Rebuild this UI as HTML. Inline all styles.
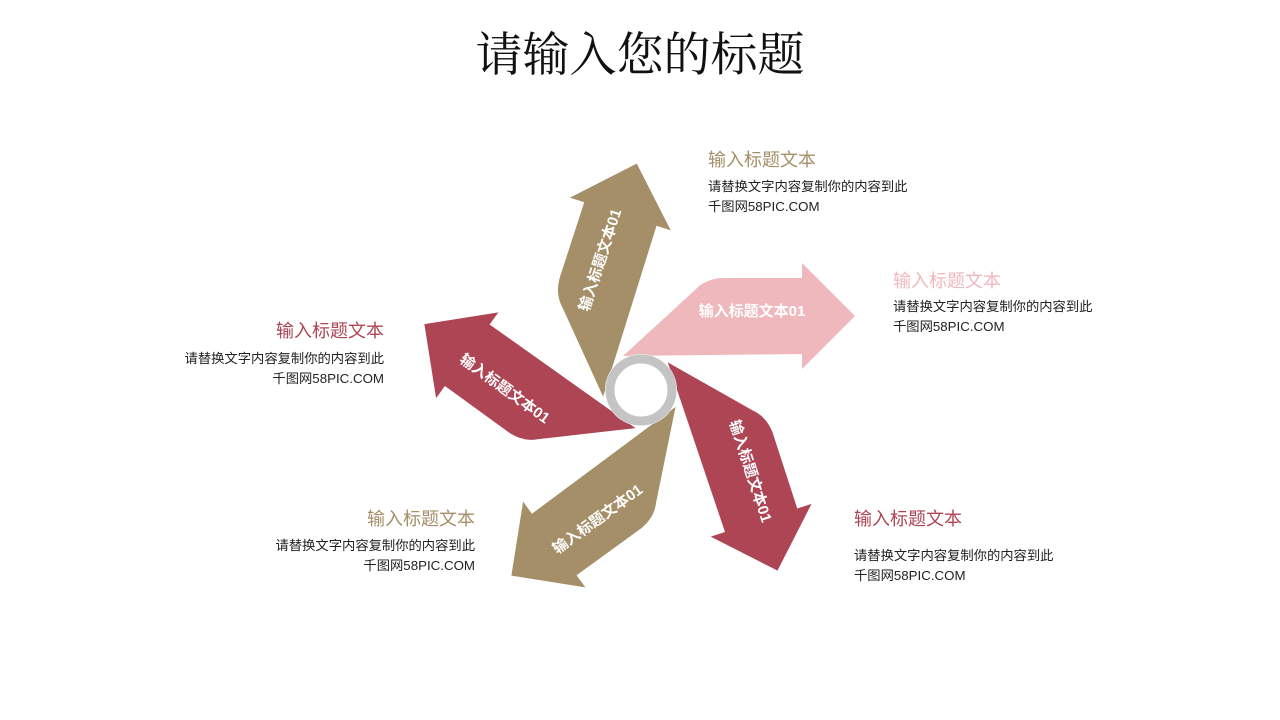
<!DOCTYPE html>
<html><head><meta charset="utf-8"><style>
body{margin:0;width:1280px;height:720px;background:#fff;position:relative;overflow:hidden;font-family:"Liberation Sans","Noto Sans CJK SC",sans-serif}
.t{position:absolute;white-space:nowrap}
.h{font-size:18px;line-height:22px}
.b{font-size:13.3px;line-height:19.5px;color:#222}
.r{text-align:right}
</style></head><body>
<div class="t" style="left:0;width:1280px;top:27px;text-align:center;font-size:47px;line-height:58px;font-family:'Liberation Serif','Noto Serif CJK SC',serif;color:#111">请输入您的标题</div>

<svg width="1280" height="720" style="position:absolute;left:0;top:0">
<defs>
<path id="arr" d="M623,356 L695,290 Q705,279 722,278 L802,278 L802,263 L855,316 L802,369 L802,354 Z"/>
</defs>
<g>
<use href="#arr" fill="#EFB8BC"/>
<text x="752" y="316" text-anchor="middle" font-size="15" font-weight="bold" fill="#fff" font-family="Liberation Sans,Noto Sans CJK SC,sans-serif">输入标题文本01</text>
</g>
<g transform="rotate(-72 641 390)">
<use href="#arr" fill="#A58F68"/>
<text x="752" y="316" text-anchor="middle" font-size="15" font-weight="bold" fill="#fff" font-family="Liberation Sans,Noto Sans CJK SC,sans-serif">输入标题文本01</text>
</g>
<g transform="rotate(-144 641 390)">
<use href="#arr" fill="#AD4555"/>
<text x="752" y="316" text-anchor="middle" font-size="15" font-weight="bold" fill="#fff" transform="rotate(180 752 311)" font-family="Liberation Sans,Noto Sans CJK SC,sans-serif">输入标题文本01</text>
</g>
<g transform="rotate(-216 641 390)">
<use href="#arr" fill="#A58F68"/>
<text x="752" y="316" text-anchor="middle" font-size="15" font-weight="bold" fill="#fff" transform="rotate(180 752 311)" font-family="Liberation Sans,Noto Sans CJK SC,sans-serif">输入标题文本01</text>
</g>
<g transform="rotate(-288 641 390)">
<use href="#arr" fill="#AD4555"/>
<text x="752" y="316" text-anchor="middle" font-size="15" font-weight="bold" fill="#fff" font-family="Liberation Sans,Noto Sans CJK SC,sans-serif">输入标题文本01</text>
</g>
<circle cx="641" cy="390" r="36" fill="#fff"/>
<circle cx="641" cy="390" r="31" fill="none" stroke="#C4C4C4" stroke-width="9"/>
</svg>

<div class="t h" style="left:708px;top:149px;color:#A58F68">输入标题文本</div>
<div class="t b" style="left:708px;top:177px">请替换文字内容复制你的内容到此<br>千图网58PIC.COM</div>

<div class="t h" style="left:893px;top:270px;color:#EFB8BC">输入标题文本</div>
<div class="t b" style="left:893px;top:297px">请替换文字内容复制你的内容到此<br>千图网58PIC.COM</div>

<div class="t h r" style="right:896px;top:320px;color:#AD4555">输入标题文本</div>
<div class="t b r" style="right:896px;top:349px">请替换文字内容复制你的内容到此<br>千图网58PIC.COM</div>

<div class="t h r" style="right:805px;top:508px;color:#A58F68">输入标题文本</div>
<div class="t b r" style="right:805px;top:536px">请替换文字内容复制你的内容到此<br>千图网58PIC.COM</div>

<div class="t h" style="left:854px;top:508px;color:#AD4555">输入标题文本</div>
<div class="t b" style="left:854px;top:546px">请替换文字内容复制你的内容到此<br>千图网58PIC.COM</div>
</body></html>
